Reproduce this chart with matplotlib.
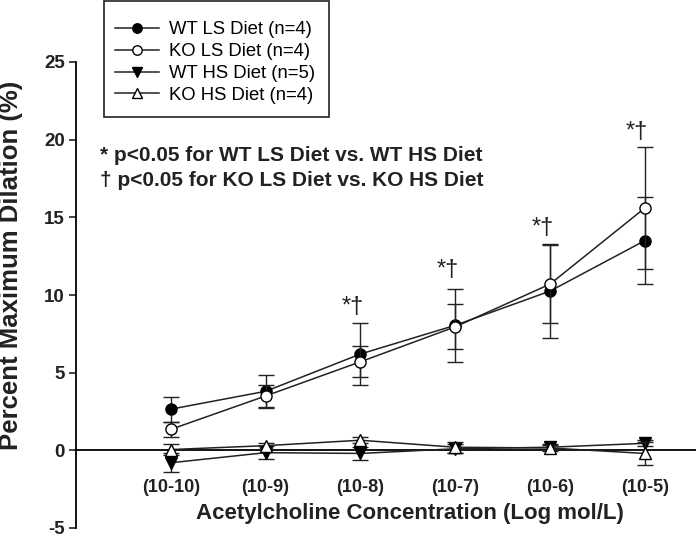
import matplotlib
matplotlib.use("Agg")
import matplotlib.pyplot as plt
from matplotlib.patches import Rectangle
import numpy as np

plt.rcParams['font.family'] = ['Liberation Sans', 'DejaVu Sans']
plt.rcParams['axes.unicode_minus'] = False

conc = ["(10-10)", "(10-9)", "(10-8)", "(10-7)", "(10-6)", "(10-5)"]
x = np.arange(1, 7)

wt_ls = [2.65, 3.8, 6.2, 8.05, 10.25, 13.5]
wt_ls_err = [0.8, 1.05, 2.0, 2.35, 3.05, 2.8]
ko_ls = [1.35, 3.5, 5.7, 7.95, 10.7, 15.6]
ko_ls_err = [0.5, 0.7, 1.0, 1.45, 2.5, 3.9]
wt_hs = [-0.8, -0.15, -0.2, 0.1, 0.2, 0.45]
wt_hs_err = [0.6, 0.4, 0.4, 0.3, 0.2, 0.2]
ko_hs = [0.05, 0.3, 0.65, 0.2, 0.15, -0.2]
ko_hs_err = [0.35, 0.2, 0.2, 0.35, 0.2, 0.75]

sig_y = [9.2, 11.6, 14.3, 20.5]   # "*†" markers over 10-8 .. 10-5
sig_x = [3, 4, 5, 6]

fig = plt.figure(figsize=(6.96, 5.41), dpi=100)
ax = fig.add_axes([76/696, 13/541, 620/696, 466/541])

lc = '#222222'
common = dict(color=lc, lw=1.1, ecolor=lc, elinewidth=1.0, capsize=5.5,
              capthick=1.0, markersize=8, markeredgewidth=1.0)

e_wths = ax.errorbar(x, wt_hs, yerr=wt_hs_err, marker='v', mfc='black', mec='black',
                     zorder=3, **common)
e_kohs = ax.errorbar(x, ko_hs, yerr=ko_hs_err, marker='^', mfc='white', mec='black',
                     zorder=4, **common)
e_wtls = ax.errorbar(x, wt_ls, yerr=wt_ls_err, marker='o', mfc='black', mec='black',
                     zorder=3, **common)
e_kols = ax.errorbar(x, ko_ls, yerr=ko_ls_err, marker='o', mfc='white', mec='black',
                     zorder=4, **common)

for sx, sy in zip(sig_x, sig_y):
    ax.text(sx - 0.08, sy, "*\u2020", ha='center', va='center',
            fontsize=17, color=lc)

ax.text(0.25, 19.0, "* p<0.05 for WT LS Diet vs. WT HS Diet", fontsize=15,
        fontweight='bold', color=lc, va='center')
ax.text(0.25, 17.35, "\u2020 p<0.05 for KO LS Diet vs. KO HS Diet", fontsize=15,
        fontweight='bold', color=lc, va='center')

ax.set_xlim(0, 6.54)
ax.set_ylim(-5, 25)
ax.set_yticks([-5, 0, 5, 10, 15, 20, 25])
ax.set_xticks(x)
ax.set_xticklabels(conc)
ax.spines['top'].set_visible(False)
ax.spines['right'].set_visible(False)
ax.spines['bottom'].set_position(('data', 0))
ax.spines['bottom'].set_linewidth(1.3)
ax.spines['left'].set_linewidth(1.3)
ax.spines['bottom'].set_zorder(2)
ax.tick_params(axis='x', length=0, pad=21, labelsize=13, colors=lc)
ax.tick_params(axis='y', length=5, width=1.2, direction='out', labelsize=13.5,
               colors=lc, pad=3)
for lab in ax.get_xticklabels() + ax.get_yticklabels():
    lab.set_fontweight('bold')

ax.text(-0.105, 0.564, "Percent Maximum Dilation (%)", transform=ax.transAxes,
        rotation=90, ha='center', va='center', fontsize=18.5, fontweight='bold',
        color=lc)
ax.text(0.539, 0.032, "Acetylcholine Concentration (Log mol/L)",
        transform=ax.transAxes, ha='center', va='center', fontsize=16,
        fontweight='bold', color=lc)

# legend: entries without frame, box drawn separately
handles = [e_wtls[0], e_kols[0], e_wths[0], e_kohs[0]]
labels = ["WT LS Diet (n=4)", "KO LS Diet (n=4)", "WT HS Diet (n=5)",
          "KO HS Diet (n=4)"]
leg = fig.legend(handles, labels,
                 loc='upper left', bbox_to_anchor=(115/696, 1 - 21/541),
                 fontsize=13.3, frameon=False, handlelength=2.38,
                 borderpad=0, labelspacing=0.27, handletextpad=0.54,
                 borderaxespad=0, markerscale=0.85)
fig.patches.append(Rectangle((104/696, 1 - 117/541), 225/696, 116/541,
                             transform=fig.transFigure, fill=False,
                             edgecolor=lc, lw=1.2))

fig.savefig("out.png", dpi=100)
